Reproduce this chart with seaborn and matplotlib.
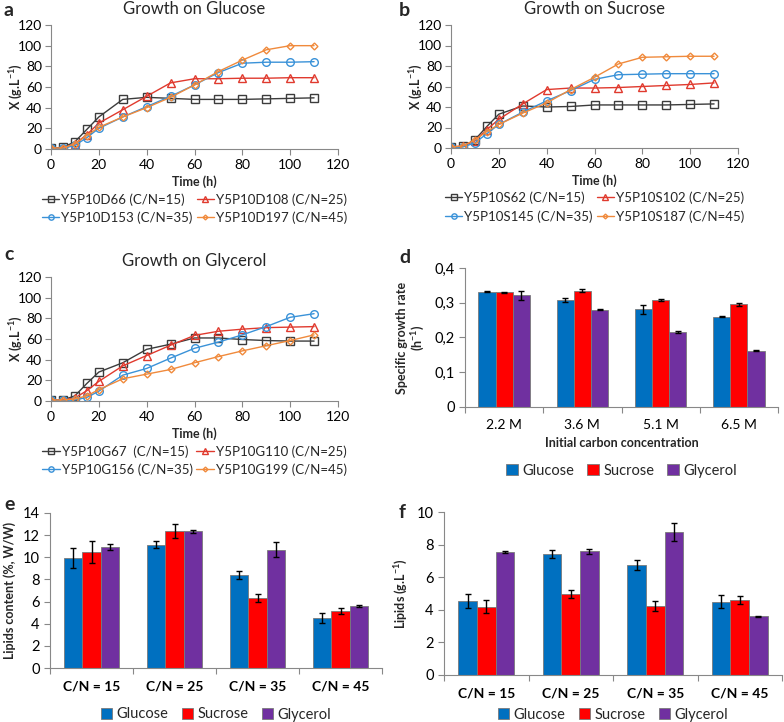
import numpy as np
import pandas as pd
import matplotlib
matplotlib.use("Agg")
import matplotlib.pyplot as plt
import seaborn as sns
from matplotlib.ticker import MultipleLocator, FixedLocator

# growth curves (time in h, biomass X in g/L)
time = [0, 5, 10, 15, 20, 30, 40, 50, 60, 70, 80, 90, 100, 110]

glucose_names = ["Y5P10D66 (C/N=15)", "Y5P10D108 (C/N=25)", "Y5P10D153 (C/N=35)", "Y5P10D197 (C/N=45)"]
glucose_d66 = [1, 1.5, 7, 19, 31, 48, 50, 49, 48, 48, 48, 48.5, 49, 49.5]
glucose_d108 = [1, 1, 5, 14, 25, 38, 51, 64, 68, 68, 68.5, 68.5, 69, 69]
glucose_d153 = [0.5, 0.5, 3.5, 11, 20, 31, 41, 51, 62, 74, 83, 84, 84, 84.5]
glucose_d197 = [1, 1, 5, 13, 21, 31, 40, 50, 62, 75, 86, 96, 100, 100]

sucrose_names = ["Y5P10S62 (C/N=15)", "Y5P10S102 (C/N=25)", "Y5P10S145 (C/N=35)", "Y5P10S187 (C/N=45)"]
sucrose_s62 = [1, 1.5, 8, 21, 33, 41, 40, 40.5, 42, 42, 42, 42, 42.5, 43]
sucrose_s102 = [1, 2, 7, 18, 28, 43, 57, 58.5, 58.5, 59, 60, 61, 62, 63.5]
sucrose_s145 = [0.5, 1, 5, 14, 23, 35, 46, 56, 67, 71.5, 72, 72.5, 72.5, 72.5]
sucrose_s187 = [1, 2, 8, 16, 23, 34, 44, 57, 69, 82, 88.5, 89, 89.5, 89.5]

glycerol_names = ["Y5P10G67  (C/N=15)", "Y5P10G110 (C/N=25)", "Y5P10G156 (C/N=35)", "Y5P10G199 (C/N=45)"]
glycerol_g67 = [1, 1, 5, 17, 28, 37, 50, 55, 61, 61, 59.5, 58.5, 58, 58]
glycerol_g110 = [1, 1, 3, 10, 19, 34, 44, 54, 63.5, 67.5, 69.5, 71, 71.5, 72]
glycerol_g156 = [0.5, 0.5, 1, 3.5, 9.5, 25, 31.5, 41.5, 51, 57, 64, 72, 81, 84.5]
glycerol_g199 = [1, 1, 2, 5, 11, 21.5, 26, 30.5, 37, 43, 48.5, 53.5, 58.5, 64]

# bar panels
substrates = ["Glucose", "Sucrose", "Glycerol"]
conc_labels = ["2.2 M", "3.6 M", "5.1 M", "6.5 M"]
mu_glucose = [0.332, 0.308, 0.281, 0.260]
mu_sucrose = [0.330, 0.335, 0.308, 0.295]
mu_glycerol = [0.321, 0.280, 0.215, 0.162]
mu_err_glucose = [0.001, 0.006, 0.013, 0.001]
mu_err_sucrose = [0.002, 0.005, 0.003, 0.004]
mu_err_glycerol = [0.012, 0.001, 0.003, 0.001]

cn_labels = ["C/N = 15", "C/N = 25", "C/N = 35", "C/N = 45"]
lip_pct_glucose = [9.9, 11.15, 8.4, 4.5]
lip_pct_sucrose = [10.5, 12.35, 6.3, 5.15]
lip_pct_glycerol = [10.95, 12.35, 10.7, 5.6]
lip_pct_err_glucose = [0.9, 0.3, 0.4, 0.45]
lip_pct_err_sucrose = [1.0, 0.65, 0.35, 0.3]
lip_pct_err_glycerol = [0.25, 0.15, 0.7, 0.05]

lip_gl_glucose = [4.55, 7.4, 6.75, 4.5]
lip_gl_sucrose = [4.2, 4.95, 4.25, 4.6]
lip_gl_glycerol = [7.55, 7.6, 8.8, 3.6]
lip_gl_err_glucose = [0.45, 0.25, 0.3, 0.4]
lip_gl_err_sucrose = [0.4, 0.25, 0.3, 0.25]
lip_gl_err_glycerol = [0.05, 0.15, 0.55, 0.03]

sns.set_style("ticks")
plt.rcParams['font.family'] = ['Lato', 'DejaVu Sans']
plt.rcParams['mathtext.fontset'] = 'custom'
plt.rcParams['mathtext.rm'] = 'Lato'
plt.rcParams['mathtext.bf'] = 'Lato:bold'
plt.rcParams['axes.edgecolor'] = '#888888'
plt.rcParams['xtick.color'] = '#888888'
plt.rcParams['ytick.color'] = '#888888'
plt.rcParams['xtick.labelcolor'] = 'black'
plt.rcParams['ytick.labelcolor'] = 'black'

W, H = 784, 722
fig = plt.figure(figsize=(W / 100, H / 100), dpi=100)


def px_axes(x0, y0, x1, y1):
    return fig.add_axes([x0 / W, 1 - y1 / H, (x1 - x0) / W, (y1 - y0) / H])


line_colors = ["#3c3c3c", "#e03a2e", "#3a92d8", "#f08a3c"]
line_markers = ["s", "^", "o", "D"]
marker_sizes = [5.5, 5.5, 5.5, 3.5]


def growth_panel(ax, series, names, title):
    for vals, name, c, m, ms in zip(series, names, line_colors, line_markers, marker_sizes):
        sns.lineplot(x=time, y=vals, ax=ax, color=c, marker=m, markersize=ms,
                     markerfacecolor='none', markeredgecolor=c, markeredgewidth=1,
                     linewidth=1, label=name)
    ax.set_xlim(0, 120)
    ax.set_ylim(0, 120)
    ax.xaxis.set_major_locator(MultipleLocator(20))
    ax.yaxis.set_major_locator(MultipleLocator(20))
    ax.tick_params(labelsize=10, length=4, width=0.8)
    ax.tick_params(axis='y', pad=2.5)
    ax.set_xlabel("Time (h)", fontsize=9, fontweight='bold', labelpad=3)
    ax.set_ylabel(r"X (g.L$^{\mathbf{-1}}$)", fontsize=9, fontweight='bold')
    ax.yaxis.set_label_coords(-0.09, 0.5)
    ax.set_title(title, fontsize=12, pad=8)
    sns.despine(ax=ax)
    h, l = ax.get_legend_handles_labels()
    order = [0, 2, 1, 3]
    ax.legend([h[i] for i in order], [l[i] for i in order], ncol=2, frameon=False,
              loc='center', bbox_to_anchor=(0.5, -0.48), fontsize=9.5, markerscale=0.7,
              handlelength=1.3, handletextpad=0.15, columnspacing=0.3, labelspacing=0.45,
              borderaxespad=0)


ax_a = px_axes(51, 25, 338, 149)
growth_panel(ax_a, [glucose_d66, glucose_d108, glucose_d153, glucose_d197], glucose_names, "Growth on Glucose")
ax_b = px_axes(451, 25, 738, 148)
growth_panel(ax_b, [sucrose_s62, sucrose_s102, sucrose_s145, sucrose_s187], sucrose_names, "Growth on Sucrose")
ax_c = px_axes(51, 277, 338, 401)
growth_panel(ax_c, [glycerol_g67, glycerol_g110, glycerol_g156, glycerol_g199], glycerol_names, "Growth on Glycerol")

bar_colors = ["#0070c0", "#ff0000", "#7030a0"]


def bar_panel(ax, cats, vals, errs, ylim, step, ylabel, tick_bold, legend_y, fmt=None):
    df = pd.DataFrame({
        "cat": [c for c in cats for _ in substrates],
        "substrate": substrates * len(cats),
        "value": [vals[j][i] for i in range(len(cats)) for j in range(3)],
        "err": [errs[j][i] for i in range(len(cats)) for j in range(3)],
    })
    sns.barplot(data=df, x="cat", y="value", hue="substrate", hue_order=substrates,
                palette=bar_colors, width=0.66, errorbar=None, ax=ax,
                edgecolor='#7a7a7a', linewidth=0.6, saturation=1)
    for cont, sub in zip(ax.containers, substrates):
        e = df[df.substrate == sub]["err"].values
        xs = [b.get_x() + b.get_width() / 2 for b in cont]
        ys = [b.get_height() for b in cont]
        ax.errorbar(xs, ys, yerr=e, fmt='none', ecolor='black', elinewidth=1,
                    capsize=2, capthick=1)
    ax.set_xlim(-0.5, len(cats) - 0.5)
    ax.set_ylim(*ylim)
    ax.yaxis.set_major_locator(MultipleLocator(step))
    if fmt:
        ax.yaxis.set_major_formatter(fmt)
    ax.xaxis.set_minor_locator(FixedLocator(np.arange(-0.5, len(cats), 1.0)))
    ax.tick_params(axis='x', which='major', length=0, pad=9, labelsize=10)
    ax.tick_params(axis='x', which='minor', length=4, width=0.8)
    ax.tick_params(axis='y', labelsize=10.5, length=4, width=0.8)
    if tick_bold:
        for t in ax.get_xticklabels():
            t.set_fontweight('bold')
    ax.set_xlabel("")
    ax.set_ylabel(ylabel, fontsize=9, fontweight='bold', labelpad=5)
    sns.despine(ax=ax)
    ax.legend(ncol=3, frameon=False, loc='center', bbox_to_anchor=(0.5, legend_y),
              fontsize=10.5, handlelength=0.8, handleheight=0.8, handletextpad=0.3,
              columnspacing=0.9, borderaxespad=0)


comma = matplotlib.ticker.FuncFormatter(lambda v, p: "0" if v == 0 else f"{v:.1f}".replace(".", ","))
ax_d = px_axes(465, 268, 778, 407)
bar_panel(ax_d, conc_labels, [mu_glucose, mu_sucrose, mu_glycerol],
          [mu_err_glucose, mu_err_sucrose, mu_err_glycerol], (0, 0.4), 0.1,
          "Specific growth rate\n" + r"(h$^{\mathbf{-1}}$)", False, -0.46, comma)
ax_d.tick_params(axis='x', which='major', pad=9)
ax_d.set_xlabel("Initial carbon concentration", fontsize=9, fontweight='bold', labelpad=4)

ax_e = px_axes(50, 513, 382, 668)
bar_panel(ax_e, cn_labels, [lip_pct_glucose, lip_pct_sucrose, lip_pct_glycerol],
          [lip_pct_err_glucose, lip_pct_err_sucrose, lip_pct_err_glycerol], (0, 14), 2,
          "Lipids content (%, W/W)", True, -0.30)

ax_f = px_axes(444, 512, 782, 675)
bar_panel(ax_f, cn_labels, [lip_gl_glucose, lip_gl_sucrose, lip_gl_glycerol],
          [lip_gl_err_glucose, lip_gl_err_sucrose, lip_gl_err_glycerol], (0, 10), 2,
          r"Lipids (g.L$^{\mathbf{-1}}$)", True, -0.245)

# panel letters
for lab, x, y in [("a", 4, 10), ("b", 399, 10), ("c", 4, 254), ("d", 399, 257),
                  ("e", 4, 504), ("f", 399, 512)]:
    fig.text(x / W, 1 - y / H, lab, fontsize=14, fontweight='bold', va='center', ha='left')

fig.savefig("out.png", dpi=100)
